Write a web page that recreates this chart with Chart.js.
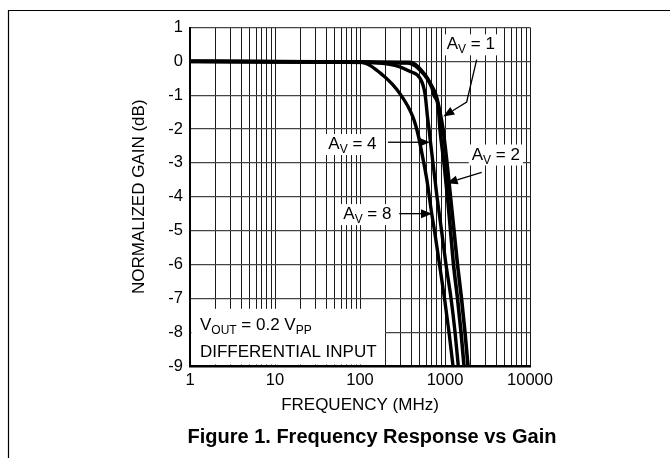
<!DOCTYPE html>
<html>
<head>
<meta charset="utf-8">
<script src="https://cdn.jsdelivr.net/npm/chart.js@4.4.1/dist/chart.umd.min.js"></script>
<style>
  body { margin: 0; background: #fff; }
  canvas { display: block; }
</style>
</head>
<body>
<canvas id="gain-chart" width="670" height="458"></canvas>
<script>
// frequency (MHz) and normalized gain (dB)
var freqAv1 = [1, 367, 556, 698, 742, 834, 873, 973, 1069, 1161, 1259, 1403, 1543, 1674];
var gainAv1 = [0, -0.05, -0.36, -0.76, -1.0, -1.35, -2, -3, -4, -5, -6, -7, -8, -9];

var freqAv2 = [1, 387, 582, 722, 784, 873, 947, 1056, 1161, 1277, 1403, 1563, 1718, 1865];
var gainAv2 = [0, -0.03, -0.4, -0.8, -1.0, -1.5, -2, -3, -4, -5, -6, -7, -8, -9];

var freqAv4 = [1, 108, 258, 390, 508, 582, 623, 649, 675, 722, 805, 910, 1027, 1177, 1312, 1433];
var gainAv4 = [0, -0.02, -0.12, -0.3, -0.5, -0.96, -1.65, -2, -2.39, -3, -4, -5, -6, -7, -8, -9];

var freqAv8 = [1, 100, 186, 296, 420, 485, 522, 609, 698, 752, 861, 986, 1114, 1242];
var gainAv8 = [0, -0.02, -0.41, -0.96, -1.65, -2.19, -2.58, -3.47, -4.5, -5, -6, -7, -8, -9];

var decades = [1, 10, 100, 1000];
var xMax = 10000;

function pairs(xs, ys) {
  return xs.map(function (x, i) { return {x: x, y: ys[i]}; });
}

var xTicks = [];
decades.forEach(function (d) {
  for (var m = 1; m <= 9; m++) xTicks.push(d * m);
});
xTicks.push(xMax);

var FONT = '"Liberation Sans", Arial, sans-serif';
var CAPTION = 'Figure 1. Frequency Response vs Gain';

// labels: text pieces (second item = subscript), anchored at left/baseline in data units
var notes = [
  {parts: [['A'], ['V', 1], [' = 1']], f: 1048, g: 0.355},
  {parts: [['A'], ['V', 1], [' = 4']], f: 42.4, g: -2.59},
  {parts: [['A'], ['V', 1], [' = 2']], f: 2061, g: -2.9},
  {parts: [['A'], ['V', 1], [' = 8']], f: 63.6, g: -4.66},
  {parts: [['V'], ['OUT', 1], [' = 0.2 V'], ['PP', 1]], f: 1.31, g: -7.93, nobox: true},
  {parts: [['DIFFERENTIAL INPUT']], f: 1.31, g: -8.73, nobox: true}
];
var arrows = [
  [[2360, 0.05], [1799, -1.2], [955, -1.63]],
  [[213, -2.39], [666, -2.39]],
  [[2700, -3.28], [1047, -3.6]],
  [[290, -4.5], [703, -4.5]]
];
var noteBox = {f: 197, g: -7.31};

var notesPlugin = {
  id: 'notes',
  beforeDatasetsDraw: function (chart) {
    var ctx = chart.ctx, xs = chart.scales.x, ys = chart.scales.y, area = chart.chartArea;
    ctx.save();
    ctx.fillStyle = '#fff';
    var bx = xs.getPixelForValue(noteBox.f), by = ys.getPixelForValue(noteBox.g);
    ctx.fillRect(area.left + 1.5, by, bx - area.left - 1.5, area.bottom - by - 1.5);

    notes.forEach(function (n) {
      var x0 = xs.getPixelForValue(n.f), y0 = ys.getPixelForValue(n.g);
      var w = 0;
      n.parts.forEach(function (p) {
        ctx.font = (p[1] ? '12px ' : '17px ') + FONT;
        w += ctx.measureText(p[0]).width;
      });
      if (!n.nobox) {
        ctx.fillStyle = '#fff';
        ctx.fillRect(x0 - 3, y0 - 15, w + 6, 21);
      }
      ctx.fillStyle = '#000';
      ctx.textBaseline = 'alphabetic';
      var x = x0;
      n.parts.forEach(function (p) {
        ctx.font = (p[1] ? '12px ' : '17px ') + FONT;
        ctx.fillText(p[0], x, y0 + (p[1] ? 4 : 0));
        x += ctx.measureText(p[0]).width;
      });
    });

    ctx.strokeStyle = '#000';
    ctx.fillStyle = '#000';
    ctx.lineWidth = 1.3;
    arrows.forEach(function (a) {
      var pts = a.map(function (p) { return [xs.getPixelForValue(p[0]), ys.getPixelForValue(p[1])]; });
      var n = pts.length, tip = pts[n - 1], prev = pts[n - 2];
      var ang = Math.atan2(tip[1] - prev[1], tip[0] - prev[0]);
      var hl = 11, hw = 4.5;
      var bxp = tip[0] - hl * Math.cos(ang), byp = tip[1] - hl * Math.sin(ang);
      ctx.beginPath();
      ctx.moveTo(pts[0][0], pts[0][1]);
      for (var i = 1; i < n - 1; i++) ctx.lineTo(pts[i][0], pts[i][1]);
      ctx.lineTo(bxp, byp);
      ctx.stroke();
      ctx.beginPath();
      ctx.moveTo(tip[0], tip[1]);
      ctx.lineTo(bxp + hw * Math.sin(ang), byp - hw * Math.cos(ang));
      ctx.lineTo(bxp - hw * Math.sin(ang), byp + hw * Math.cos(ang));
      ctx.closePath();
      ctx.fill();
    });
    ctx.restore();
  },
  afterDraw: function (chart) {
    var ctx = chart.ctx;
    ctx.save();
    ctx.strokeStyle = '#000';
    ctx.lineWidth = 1.2;
    ctx.beginPath();
    ctx.moveTo(8.5, 458);
    ctx.lineTo(8.5, 10.5);
    ctx.lineTo(670, 10.5);
    ctx.stroke();
    // figure caption
    ctx.fillStyle = '#000';
    ctx.font = 'bold 20px ' + FONT;
    ctx.textAlign = 'center';
    ctx.textBaseline = 'middle';
    ctx.fillText(CAPTION, 372, 437);
    ctx.restore();
  }
};

function curve(label, xs, ys, w) {
  return {
    label: label,
    data: pairs(xs, ys),
    borderColor: '#000',
    borderWidth: w,
    pointRadius: 0,
    fill: false,
    cubicInterpolationMode: 'monotone'
  };
}

new Chart(document.getElementById('gain-chart'), {
  type: 'line',
  data: {
    datasets: [
      curve('AV = 1', freqAv1, gainAv1, 3.6),
      curve('AV = 2', freqAv2, gainAv2, 3.6),
      curve('AV = 4', freqAv4, gainAv4, 3.4),
      curve('AV = 8', freqAv8, gainAv8, 3.4)
    ]
  },
  options: {
    responsive: false,
    animation: false,
    layout: { padding: { left: 125, right: 140, top: 27.5, bottom: 39 } },
    plugins: {
      legend: { display: false },
      tooltip: { enabled: false },
      title: { display: false }
    },
    scales: {
      x: {
        type: 'logarithmic',
        min: 1,
        max: xMax,
        afterBuildTicks: function (scale) {
          scale.ticks = xTicks.map(function (v) { return {value: v}; });
        },
        afterFit: function (scale) { scale.height = 53; },
        ticks: {
          autoSkip: false,
          maxRotation: 0,
          padding: 5,
          color: '#000',
          font: { family: FONT, size: 16.5 },
          callback: function (v) { return decades.indexOf(v) >= 0 || v === xMax ? String(v) : ''; }
        },
        grid: { color: '#1a1a1a', lineWidth: 1, drawTicks: false },
        border: { color: '#000', width: 2.5 },
        title: {
          display: true,
          text: 'FREQUENCY (MHz)',
          color: '#000',
          font: { family: FONT, size: 17 },
          padding: { top: 0, bottom: 3.8 }
        }
      },
      y: {
        min: -9,
        max: 1,
        afterFit: function (scale) { scale.width = 65; },
        ticks: {
          stepSize: 1,
          padding: 7,
          color: '#000',
          font: { family: FONT, size: 16.5 }
        },
        grid: { color: '#444', lineWidth: 1.3, drawTicks: false },
        border: { color: '#000', width: 2 },
        title: {
          display: true,
          text: 'NORMALIZED GAIN (dB)',
          color: '#000',
          font: { family: FONT, size: 17 },
          padding: { top: 4, bottom: 0 }
        }
      }
    }
  },
  plugins: [notesPlugin]
});
</script>
</body>
</html>
